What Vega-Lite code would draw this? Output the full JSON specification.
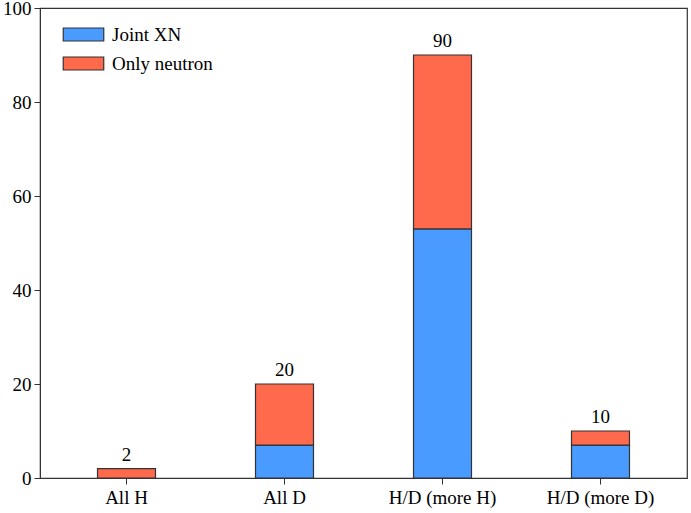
{
  "$schema": "https://vega.github.io/schema/vega-lite/v6.json",
  "width": 647,
  "height": 470,
  "autosize": {"type": "none"},
  "padding": {"left": 40, "top": 8, "right": 4, "bottom": 35},
  "background": "white",
  "config": {
    "font": "Liberation Serif",
    "view": {"stroke": "#333333", "strokeWidth": 1.2},
    "axis": {"labelFont": "Liberation Serif", "labelFontSize": 19, "labelColor": "black", "domainColor": "#333333", "tickColor": "#333333", "grid": false, "title": null},
    "legend": {"labelFont": "Liberation Serif"},
    "text": {"font": "Liberation Serif"}
  },
  "datasets": {
    "bars": [
      {"group": "All H", "type": "Joint XN", "value": 0, "ord": 1},
      {"group": "All H", "type": "Only neutron", "value": 2, "ord": 2},
      {"group": "All D", "type": "Joint XN", "value": 7, "ord": 1},
      {"group": "All D", "type": "Only neutron", "value": 13, "ord": 2},
      {"group": "H/D (more H)", "type": "Joint XN", "value": 53, "ord": 1},
      {"group": "H/D (more H)", "type": "Only neutron", "value": 37, "ord": 2},
      {"group": "H/D (more D)", "type": "Joint XN", "value": 7, "ord": 1},
      {"group": "H/D (more D)", "type": "Only neutron", "value": 3, "ord": 2}
    ],
    "totals": [
      {"group": "All H", "total": 2},
      {"group": "All D", "total": 20},
      {"group": "H/D (more H)", "total": 90},
      {"group": "H/D (more D)", "total": 10}
    ]
  },
  "layer": [
    {
      "data": {"name": "bars"},
      "mark": {"type": "bar", "stroke": "#333333", "strokeWidth": 1.2},
      "encoding": {
        "x": {"field": "group", "type": "nominal", "sort": null,
              "scale": {"paddingInner": 0.633, "paddingOuter": 0.364},
              "axis": {"labelAngle": 0, "tickSize": 6, "labelPadding": 4, "domain": true}},
        "y": {"field": "value", "type": "quantitative", "stack": "zero",
              "scale": {"domain": [0, 100], "nice": false},
              "axis": {"values": [0, 20, 40, 60, 80, 100], "tickSize": 6, "labelPadding": 3}},
        "order": {"field": "ord", "type": "quantitative"},
        "color": {"field": "type", "type": "nominal",
                  "scale": {"domain": ["Joint XN", "Only neutron"], "range": ["#4a9bff", "#ff6a4d"]},
                  "legend": {"title": null, "orient": "none", "legendX": 29, "legendY": 12,
                             "symbolType": "M-1.5,-0.48L1.5,-0.48L1.5,0.48L-1.5,0.48Z", "symbolSize": 729,
                             "symbolStrokeColor": "#333333", "symbolStrokeWidth": 1.2, "symbolOpacity": 1,
                             "labelFont": "Liberation Serif", "labelFontSize": 19, "labelColor": "black",
                             "rowPadding": 4, "labelOffset": 14}}
      }
    },
    {
      "data": {"name": "totals"},
      "mark": {"type": "text", "fontSize": 19, "font": "Liberation Serif", "color": "black", "baseline": "alphabetic", "dy": -8},
      "encoding": {
        "x": {"field": "group", "type": "nominal", "sort": null},
        "y": {"field": "total", "type": "quantitative"},
        "text": {"field": "total", "type": "quantitative"}
      }
    }
  ]
}
